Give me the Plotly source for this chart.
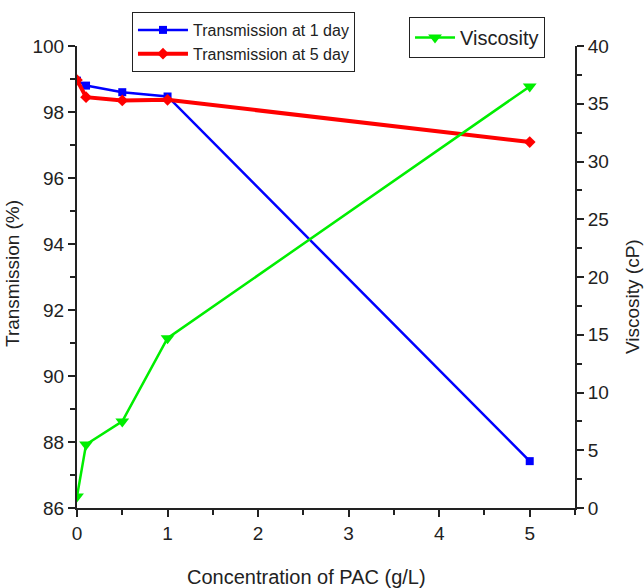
import plotly.graph_objects as go

# PAC concentration (g/L)
conc = [0, 0.1, 0.5, 1, 5]

# Transmission (%) after 1 day and 5 days
trans_1day = [98.95, 98.8, 98.6, 98.47, 87.42]
trans_5day = [98.97, 98.45, 98.35, 98.37, 97.09]

# Viscosity (cP)
viscosity = [1.0, 5.5, 7.5, 14.7, 36.5]

FONT = "Liberation Sans, Arial, sans-serif"
INK = "#222222"

fig = go.Figure()

fig.add_trace(go.Scatter(
    x=conc, y=trans_1day, name="Transmission at 1 day",
    mode="lines+markers",
    line=dict(color="#0000ff", width=2.5),
    marker=dict(symbol="square", size=8, color="#0000ff"),
    legend="legend",
))
fig.add_trace(go.Scatter(
    x=conc, y=trans_5day, name="Transmission at 5 day",
    mode="lines+markers",
    line=dict(color="#ff0000", width=4),
    marker=dict(symbol="diamond", size=9, color="#ff0000"),
    legend="legend",
))
fig.add_trace(go.Scatter(
    x=conc, y=viscosity, name="Viscosity",
    mode="lines+markers",
    line=dict(color="#00ee00", width=2.5),
    marker=dict(symbol="triangle-down", size=12, color="#00ee00"),
    yaxis="y2",
    legend="legend2",
))

axis_common = dict(
    showline=True, linecolor=INK, linewidth=2,
    ticks="outside", ticklen=7, tickwidth=1.5, tickcolor=INK,
    showgrid=False, zeroline=False,
    tickfont=dict(family=FONT, size=19, color=INK),
)
minor_common = dict(ticks="outside", ticklen=5, tickwidth=1.5, tickcolor=INK)

title_font = dict(family=FONT, size=19, color=INK)

fig.update_layout(
    width=644, height=588,
    margin=dict(l=77, r=69, t=46, b=80),
    paper_bgcolor="white", plot_bgcolor="white",
    font=dict(family=FONT, color=INK),
    xaxis=dict(
        range=[0, 5.5], tickvals=[0, 1, 2, 3, 4, 5],
        minor=dict(dtick=0.5, tick0=0, **minor_common),
        **axis_common,
    ),
    yaxis=dict(
        range=[86, 100], tick0=86, dtick=2,
        minor=dict(dtick=1, tick0=86, **minor_common),
        **axis_common,
    ),
    yaxis2=dict(
        range=[0, 40], tick0=0, dtick=5,
        overlaying="y", side="right", anchor="x",
        minor=dict(dtick=2.5, tick0=0, **minor_common),
        **axis_common,
    ),
    legend=dict(
        x=0.1104, y=1.0736, xanchor="left", yanchor="top",
        bordercolor=INK, borderwidth=1, bgcolor="white",
        font=dict(family=FONT, size=16, color=INK),
        tracegroupgap=0, itemwidth=50,
    ),
    legend2=dict(
        x=0.6667, y=1.0628, xanchor="left", yanchor="top",
        bordercolor=INK, borderwidth=1, bgcolor="white",
        font=dict(family=FONT, size=20, color=INK),
        itemwidth=40,
    ),
    showlegend=True,
    annotations=[
        dict(text="Concentration of PAC (g/L)", xref="paper", yref="paper",
             x=0.4618, y=-0.149, xanchor="center", yanchor="middle",
             showarrow=False, font=dict(family=FONT, size=20, color=INK)),
        dict(text="Transmission (%)", xref="paper", yref="paper",
             x=-0.1285, y=0.5065, xanchor="center", yanchor="middle",
             textangle=-90, showarrow=False, font=title_font),
        dict(text="Viscosity (cP)", xref="paper", yref="paper",
             x=1.1145, y=0.4567, xanchor="center", yanchor="middle",
             textangle=-90, showarrow=False, font=title_font),
    ],
)

fig.write_html("out.html")
